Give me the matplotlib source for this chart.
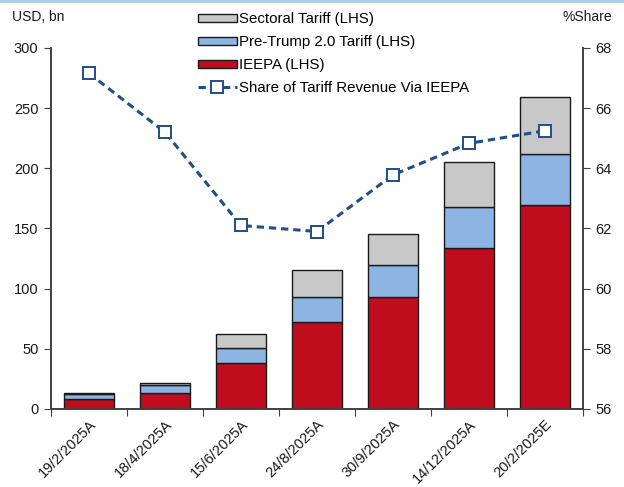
import matplotlib
matplotlib.use("Agg")
import matplotlib.pyplot as plt
import numpy as np
from matplotlib.lines import Line2D
from matplotlib.patches import Patch

plt.rcParams["font.family"] = ["Liberation Sans", "DejaVu Sans"]

dates = ["19/2/2025A", "18/4/2025A", "15/6/2025A", "24/8/2025A",
         "30/9/2025A", "14/12/2025A", "20/2/2025E"]
ieepa = [8.5, 13.5, 38.5, 72.3, 93.1, 133.5, 169.5]
pre_trump = [4.0, 6.5, 12.3, 21.1, 26.4, 34.5, 42.5]
sectoral = [0.7, 1.2, 11.6, 22.5, 26.0, 37.3, 47.0]
share = [67.16, 65.2, 62.1, 61.9, 63.78, 64.83, 65.25]

RED = "#C00D1E"
BLUE = "#8DB4E2"
GREY = "#C8C8C8"
LINE = "#1F4E8A"

fig = plt.figure(figsize=(6.24, 4.87), dpi=100)
ax = fig.add_axes([51 / 624, 1 - 409 / 487, 532 / 624, 361 / 487])
ax2 = ax.twinx()

x = np.arange(len(dates))
w = 0.67
edge = dict(edgecolor="#1a1a1a", linewidth=1.0, zorder=3)
ax.bar(x, ieepa, w, color=RED, **edge)
ax.bar(x, pre_trump, w, bottom=ieepa, color=BLUE, **edge)
ax.bar(x, sectoral, w, bottom=np.add(ieepa, pre_trump), color=GREY, **edge)

dash = (0, (2.4, 1.6))
ax2.plot(x, share, color=LINE, linewidth=2.2, linestyle=dash,
         marker="s", markersize=8, markerfacecolor="white",
         markeredgecolor=LINE, markeredgewidth=1.4, zorder=5)

ax.set_xlim(-0.5, len(dates) - 0.5)
ax.set_ylim(0, 300)
ax.set_yticks(range(0, 301, 50))
ax2.set_ylim(56, 68)
ax2.set_yticks(range(56, 69, 2))
ax.set_xticks(np.arange(-0.5, len(dates), 1.0), minor=False)
ax.set_xticklabels([])
ax.set_xticks(x, minor=True)
ax.set_xticklabels(dates, minor=True, rotation=45, ha="right",
                   rotation_mode="anchor", fontsize=10.5, color="#1a1a1a")
ax.tick_params(axis="x", which="minor", length=0, pad=6)
ax.tick_params(axis="x", which="major", length=5, direction="out", color="#404040")

for a in (ax, ax2):
    a.spines["top"].set_visible(False)
    for s in ("left", "right", "bottom"):
        a.spines[s].set_color("#404040")
        a.spines[s].set_linewidth(1.2)
    a.tick_params(axis="y", labelsize=10.5, length=5, direction="out",
                  color="#404040", labelcolor="#1a1a1a", pad=4)
ax2.set_zorder(ax.get_zorder() + 1)
ax2.patch.set_visible(False)

fig.text(12 / 624, 1 - 17 / 487, "USD, bn", fontsize=10, va="center", color="#1a1a1a")
fig.text(612 / 624, 1 - 17 / 487, "%Share", fontsize=10, va="center", ha="right", color="#1a1a1a")

handles = [
    Patch(facecolor=GREY, edgecolor="#1a1a1a", linewidth=1.0),
    Patch(facecolor=BLUE, edgecolor="#1a1a1a", linewidth=1.0),
    Patch(facecolor=RED, edgecolor="#1a1a1a", linewidth=1.0),
    Line2D([], [], color=LINE, linewidth=2.2, linestyle=dash, marker="s",
           markersize=8, markerfacecolor="white", markeredgecolor=LINE, markeredgewidth=1.4),
]
labels = ["Sectoral Tariff (LHS)", "Pre-Trump 2.0 Tariff (LHS)", "IEEPA (LHS)",
          "Share of Tariff Revenue Via IEEPA"]
fig.legend(handles, labels, loc="upper left", bbox_to_anchor=(187 / 624, 1 - 2 / 487),
           frameon=False, fontsize=10.8, handlelength=2.6, handleheight=0.45,
           handletextpad=0.15, labelspacing=0.59, borderpad=0.2)

fig.add_artist(Line2D([0, 1], [1 - 1 / 487, 1 - 1 / 487], transform=fig.transFigure,
                      color="#A9CBE8", linewidth=2.0))

fig.savefig("out.png", dpi=100)
